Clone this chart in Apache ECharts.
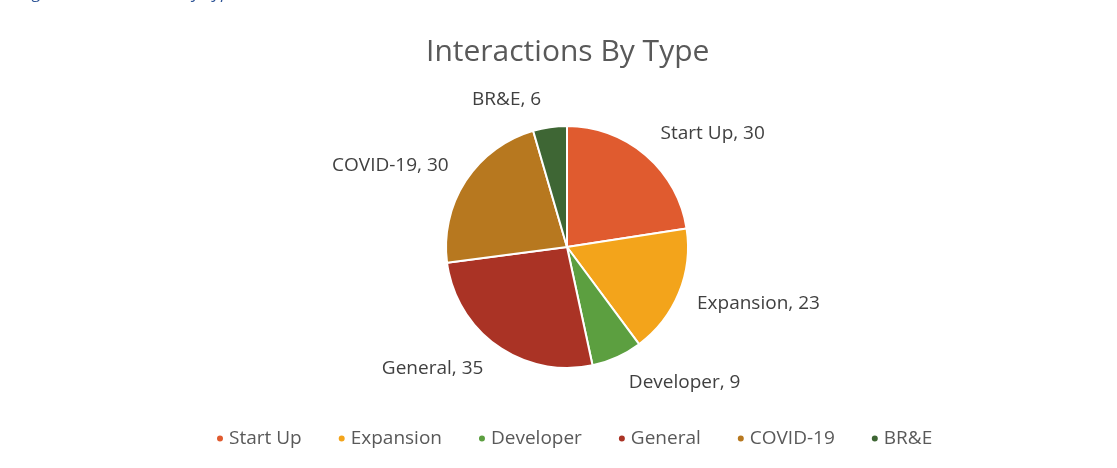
<!DOCTYPE html>
<html>
<head>
<meta charset="utf-8">
<script src="https://cdn.jsdelivr.net/npm/echarts@6/dist/echarts.min.js"></script>
<style>
  html, body { margin: 0; padding: 0; background: #fff; }
  #chart { width: 1117px; height: 468px; }
</style>
</head>
<body>
<div id="chart"></div>
<script>
// data
var categories = ['Start Up', 'Expansion', 'Developer', 'General', 'COVID-19', 'BR&E'];
var values = [30, 23, 9, 35, 30, 6];
var colors = ['#E05B2F', '#F3A41B', '#5C9F40', '#AA3325', '#B7781F', '#3E6634'];

var data = [];
for (var i = 0; i < categories.length; i++) {
  data.push({ name: categories[i], value: values[i] });
}

var cx = 567, cy = 247;

var chart = echarts.init(document.getElementById('chart'));
var option = {
  backgroundColor: '#fff',
  color: colors,
  title: {
    text: 'Interactions By Type',
    left: 421,
    top: 32,
    textStyle: {
      fontFamily: 'Open Sans',
      fontSize: 30,
      fontWeight: 'normal',
      color: '#595959'
    }
  },
  graphic: [{
    type: 'text',
    left: 20,
    top: -15,
    style: {
      text: 'Figure 5: Interactions By Type',
      font: 'italic 17px Open Sans',
      fill: '#2F5597'
    }
  }],
  legend: {
    bottom: 15,
    left: 210,
    icon: 'circle',
    itemWidth: 8,
    itemHeight: 8,
    itemGap: 35,
    textStyle: {
      fontFamily: 'Open Sans',
      fontSize: 19,
      color: '#595959'
    },
    data: categories
  },
  series: [{
    type: 'pie',
    center: [cx, cy],
    radius: [0, 121],
    startAngle: 90,
    clockwise: true,
    avoidLabelOverlap: false,
    itemStyle: {
      borderColor: '#fff',
      borderWidth: 2
    },
    label: {
      show: true,
      position: 'outside',
      formatter: '{b}, {c}',
      fontFamily: 'Open Sans',
      fontSize: 19,
      color: '#404040'
    },
    labelLine: {
      show: false,
      length: 12,
      length2: 2
    },
    // excel sets its labels a bit further out up and down
    labelLayout: function (p) {
      var r = p.labelRect;
      var my = r.y + r.height / 2;
      return { dy: (my - cy) * 0.12 };
    },
    emphasis: { disabled: true },
    data: data
  }]
};
chart.setOption(option);
</script>
</body>
</html>
